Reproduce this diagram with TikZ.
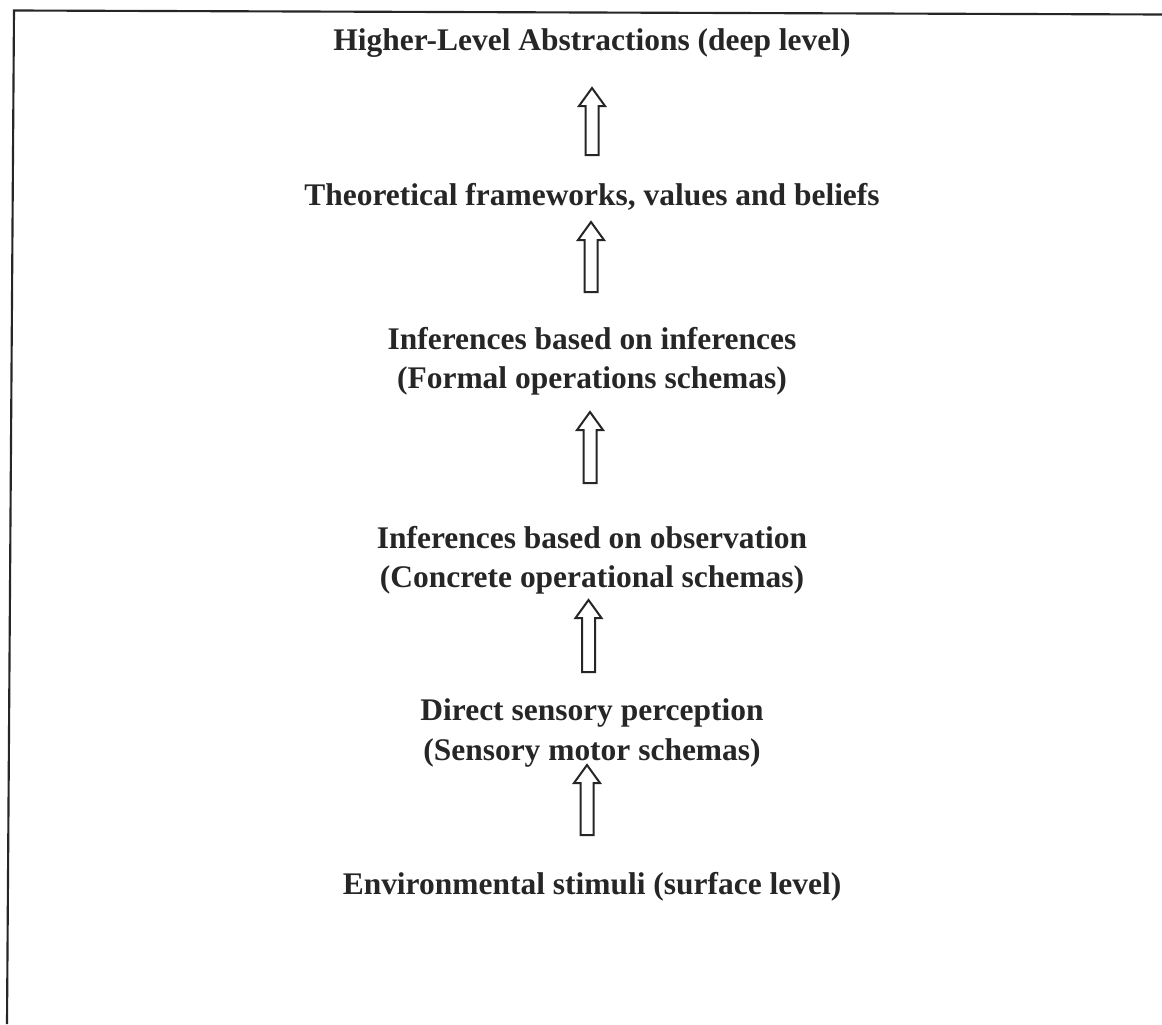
\documentclass[tikz,border=0pt]{standalone}
\usepackage{fontspec}
\setmainfont{Liberation Serif}
\usetikzlibrary{calc}
\definecolor{ink}{HTML}{262626}
\tikzset{
  lvl/.style={font=\bfseries\fontsize{23.6}{29.5}\selectfont, text=ink, align=center, inner sep=0pt},
  blockarrow/.style={draw=ink, line width=1.5pt, fill=white, line join=miter},
  frame/.style={draw=ink, line width=1.6pt}
}
\newcommand\blockarr[2]{%
  \draw[blockarrow] ($(#1)+(-6.5,0)$) -- ($(#2)+(-6.5,18)$) -- ($(#2)+(-13,18)$) -- (#2)
    -- ($(#2)+(13,18)$) -- ($(#2)+(6.5,18)$) -- ($(#1)+(6.5,0)$) -- cycle;}
\begin{document}
\begin{tikzpicture}[x=0.75pt, y=-0.75pt]
\path[use as bounding box] (0,0) rectangle (1162,1024);
\draw[frame] (1162,14.5) -- (14,10.5) -- (7,1024);

\node[lvl] (l6) at (592,43) {Higher-Level Abstractions (deep level)};
\node[lvl] (l5) at (592,197) {Theoretical frameworks, values and beliefs};
\node[lvl] (l4) at (592,361) {Inferences based on inferences\\(Formal operations schemas)};
\node[lvl] (l3) at (592,560) {Inferences based on observation\\(Concrete operational schemas)};
\node[lvl] (l2) at (592,733) {Direct sensory perception\\(Sensory motor schemas)};
\node[lvl] (l1) at (592,887) {Environmental stimuli (surface level)};

\coordinate (a1t) at (592,88);  \coordinate (a1b) at (592,155);
\coordinate (a2t) at (591,222); \coordinate (a2b) at (591,292);
\coordinate (a3t) at (590,412); \coordinate (a3b) at (590,483);
\coordinate (a4t) at (588.5,600); \coordinate (a4b) at (588.5,672);
\coordinate (a5t) at (587,765); \coordinate (a5b) at (587,835);

\blockarr{a1b}{a1t}
\blockarr{a2b}{a2t}
\blockarr{a3b}{a3t}
\blockarr{a4b}{a4t}
\blockarr{a5b}{a5t}
\end{tikzpicture}
\end{document}
